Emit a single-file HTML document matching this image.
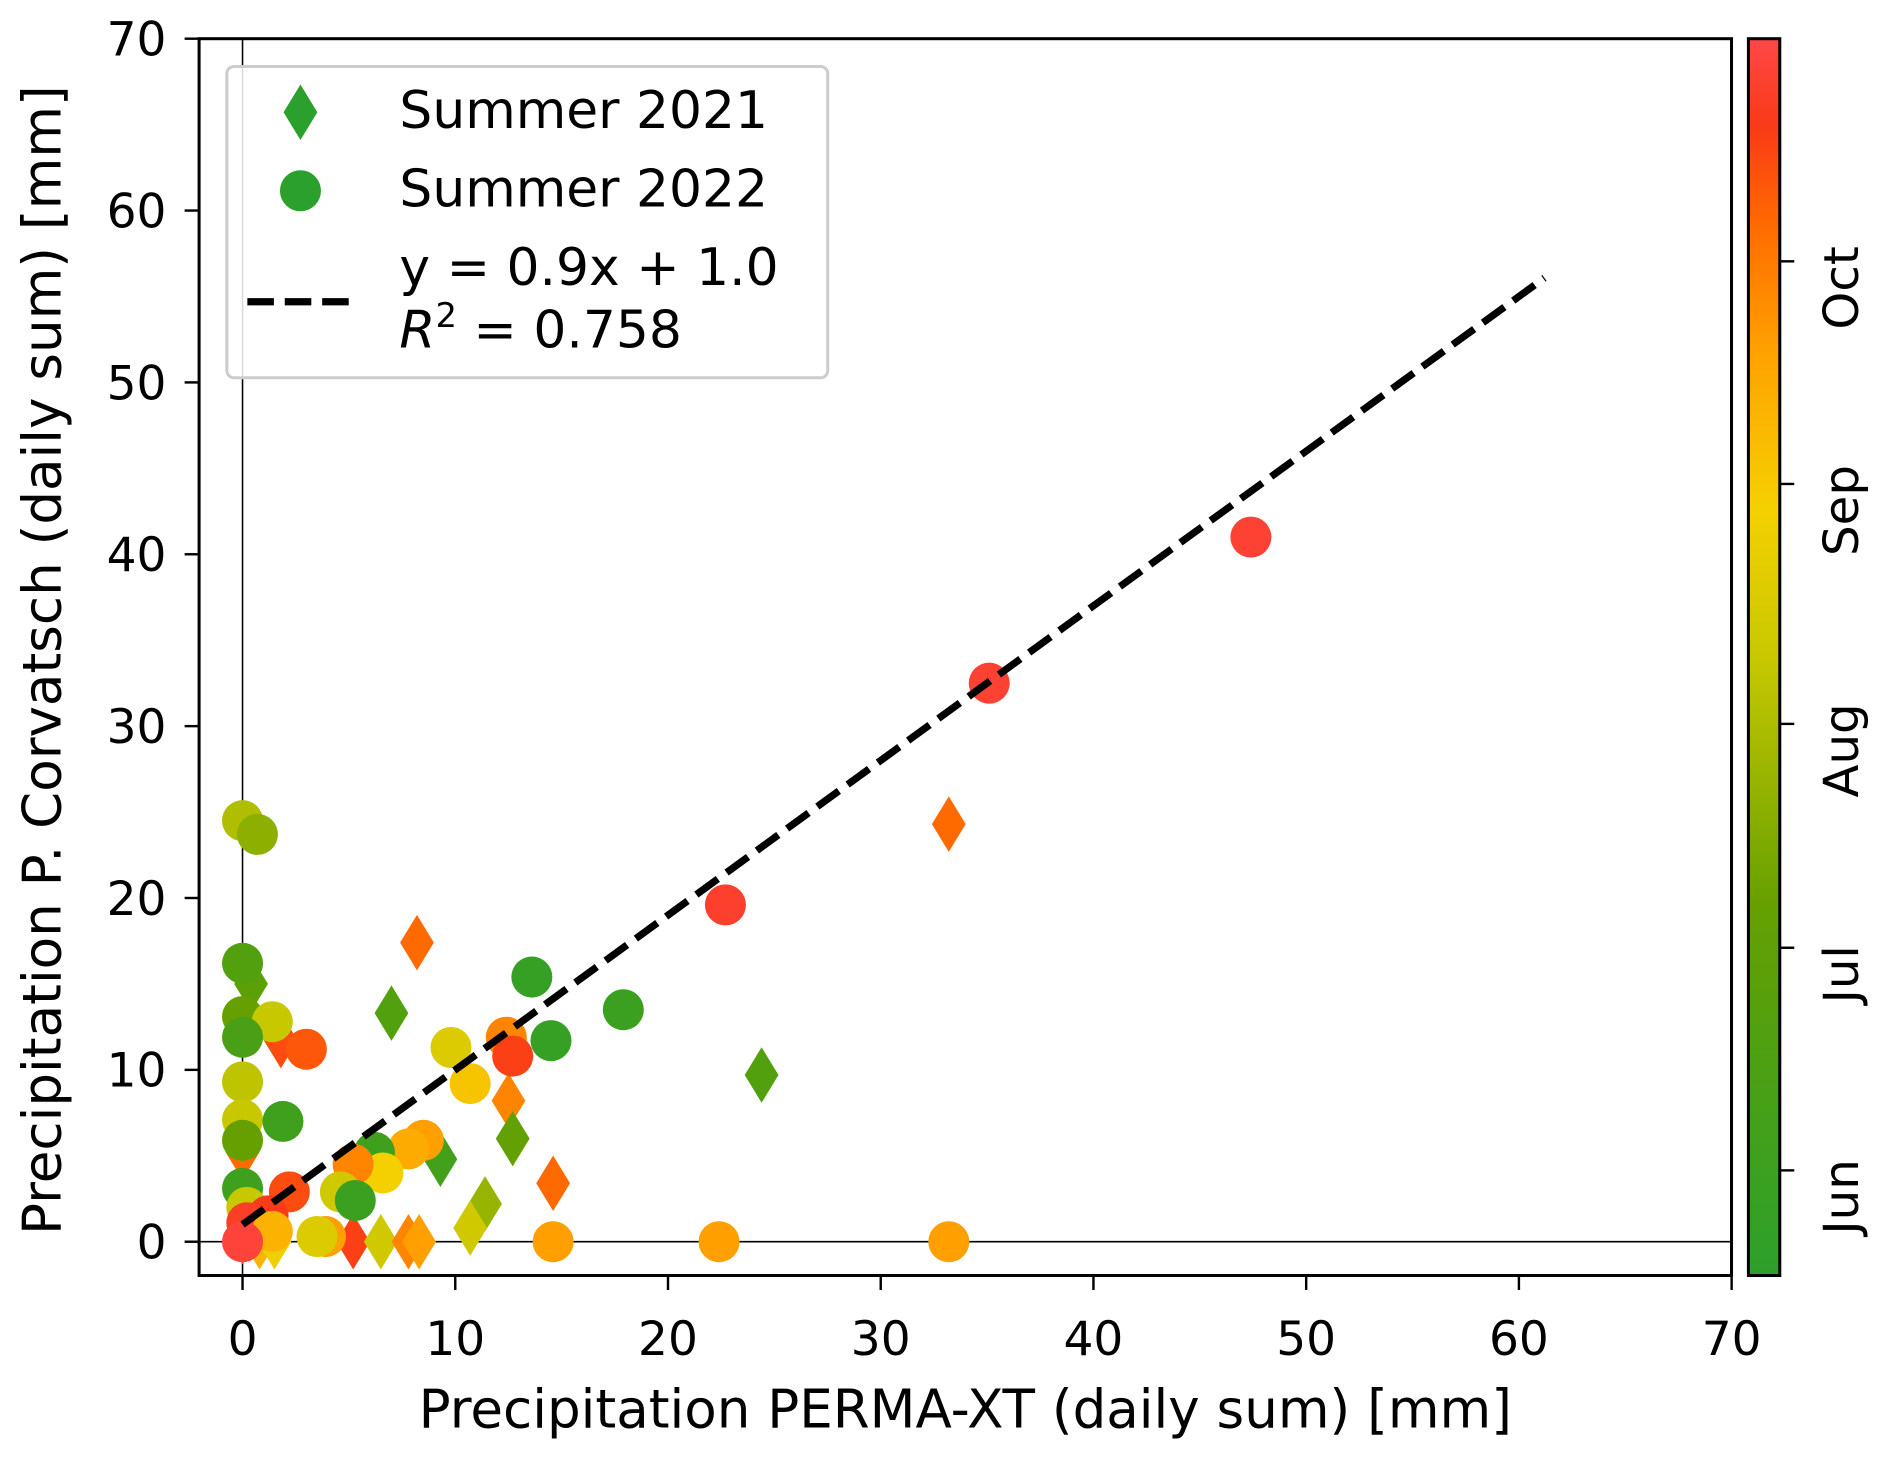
<!DOCTYPE html>
<html><head><meta charset="utf-8"><style>
html,body{margin:0;padding:0;background:#fff}
svg{display:block;font-family:"DejaVu Sans","Liberation Sans",sans-serif}
</style></head><body>
<svg id="chart" width="1892" height="1459" viewBox="0 0 1568 1209" xmlns="http://www.w3.org/2000/svg">
<defs>
<linearGradient id="cmap" x1="0" y1="1" x2="0" y2="0">
<stop offset="0" stop-color="#2ca02c"/><stop offset="0.3" stop-color="#66a000"/>
<stop offset="0.5" stop-color="#c8c800"/><stop offset="0.62" stop-color="#f5d000"/>
<stop offset="0.75" stop-color="#ffa000"/><stop offset="0.85" stop-color="#ff6a00"/>
<stop offset="0.93" stop-color="#fa3a18"/><stop offset="1" stop-color="#ff4848"/>
</linearGradient>
<clipPath id="plotclip"><rect x="165" y="32" width="1270" height="1025"/></clipPath>
</defs>
<g id="plot" clip-path="url(#plotclip)"></g>
<g id="axes"></g>
</svg>
<script>
const xTicks=[0,10,20,30,40,50,60,70];
const yTicks=[0,10,20,30,40,50,60,70];
const cbLabels=["Jun","Jul","Aug","Sep","Oct"];
const cbTickPos=[0.085,0.265,0.446,0.64,0.82];
const s21x=[33.2,8.2,7.0,24.4,12.5,12.7,9.3,14.6,11.4,10.7,5.2,6.5,7.8,8.3,0.4,1.8,0,0,0.8,1.5];
const s21y=[24.3,17.4,13.3,9.7,8.2,6.0,4.8,3.4,2.2,0.8,0,0,0,0,15.0,11.7,5.2,0.3,0,0];
const s21c=[0.85,0.85,0.2,0.2,0.8,0.28,0.12,0.85,0.4,0.52,0.92,0.52,0.8,0.75,0.25,0.9,0.85,0.95,0.7,0.6];
const s22x=[47.4,35.1,22.7,13.6,17.9,14.5,12.4,12.7,9.8,10.7,0,0.7,0,0,1.4,3.0,0,0,0,1.9,0,8.5,7.8,6.2,6.6,5.2,4.6,5.3,2.2,0,0.2,1.2,0.2,3.9,3.5,14.6,22.4,33.2,1.4,0];
const s22y=[41.0,32.5,19.6,15.4,13.5,11.7,11.9,10.8,11.3,9.2,24.5,23.7,16.2,13.1,12.8,11.2,11.9,9.3,7.1,7.0,5.9,5.9,5.4,5.2,4.0,4.5,2.9,2.4,2.9,3.1,2.0,1.5,1.1,0.3,0.3,0,0,0,0.6,0];
const s22c=[0.97,0.97,0.96,0.05,0.08,0.05,0.8,0.92,0.55,0.65,0.45,0.38,0.2,0.3,0.5,0.88,0.15,0.48,0.5,0.1,0.3,0.75,0.72,0.1,0.62,0.8,0.52,0.08,0.9,0.1,0.5,0.93,0.95,0.75,0.55,0.75,0.75,0.75,0.7,0.98];
const fitSlope=0.9, fitIntercept=1.0, fitXmax=61.2;

const X=v=>201+v*17.63, Y=v=>1029-v*14.243;
const NS="http://www.w3.org/2000/svg";
const stops=[[0,[44,160,44]],[0.3,[102,160,0]],[0.5,[200,200,0]],[0.62,[245,208,0]],[0.75,[255,160,0]],[0.85,[255,106,0]],[0.93,[250,58,24]],[1,[255,72,72]]];
function cmap(t){for(let i=1;i<stops.length;i++){if(t<=stops[i][0]){const a=stops[i-1],b=stops[i],f=(t-a[0])/(b[0]-a[0]);return "rgb("+a[1].map((c,k)=>Math.round(c+(b[1][k]-c)*f)).join(",")+")";}}return "rgb(255,72,72)";}
function mk(tag,attrs,parent,txt){const e=document.createElementNS(NS,tag);for(const k in attrs)e.setAttribute(k,attrs[k]);if(txt!==undefined)e.textContent=txt;parent.appendChild(e);return e;}
const plot=document.getElementById('plot'), axes=document.getElementById('axes');
let e;
e=mk('line',{x1:201,y1:32,x2:201,y2:1057,stroke:'#000','stroke-width':1.3},plot);


e=mk('line',{x1:165,y1:1029,x2:1435,y2:1029,stroke:'#000','stroke-width':1.3},plot);


function diamond(cx,cy){return `M${cx},${cy-23} L${cx+14},${cy} L${cx},${cy+23} L${cx-14},${cy} Z`;}
s21x.forEach((v,i)=>{e=mk('path',{d:diamond(X(v),Y(s21y[i])),fill:cmap(s21c[i])},plot);

});
s22x.forEach((v,i)=>{e=mk('ellipse',{cx:X(v),cy:Y(s22y[i]),rx:17,ry:17,fill:cmap(s22c[i])},plot);

});
e=mk('line',{x1:X(0),y1:Y(fitIntercept),x2:X(fitXmax),y2:Y(fitSlope*fitXmax+fitIntercept),stroke:'#000','stroke-width':6,'stroke-dasharray':'22,9'},plot);


e=mk('rect',{x:165,y:32,width:1270,height:1025,fill:'none',stroke:'#000','stroke-width':2.5},axes);


xTicks.forEach(t=>{mk('line',{x1:X(t),y1:1057,x2:X(t),y2:1069,stroke:'#000','stroke-width':2},axes);
e=mk('text',{x:X(t),y:1123,'font-size':39,'text-anchor':'middle'},axes,t);

});
yTicks.forEach(t=>{mk('line',{x1:153,y1:Y(t),x2:165,y2:Y(t),stroke:'#000','stroke-width':2},axes);
e=mk('text',{x:138,y:Y(t)+14,'font-size':39,'text-anchor':'end'},axes,t);

});
e=mk('text',{x:800,y:1183,'font-size':44,'text-anchor':'middle'},axes,'Precipitation PERMA-XT (daily sum) [mm]');


e=mk('text',{x:0,y:0,'font-size':44,'text-anchor':'middle',transform:'translate(50,547) rotate(-90)'},axes,'Precipitation P. Corvatsch (daily sum) [mm]');


e=mk('rect',{x:1449,y:32,width:26,height:1025,fill:'url(#cmap)',stroke:'#000','stroke-width':2.5},axes);


cbLabels.forEach((l,i)=>{const y=1057-cbTickPos[i]*1025;
mk('line',{x1:1475,y1:y,x2:1487,y2:y,stroke:'#000','stroke-width':2},axes);
e=mk('text',{x:0,y:0,'font-size':40,'text-anchor':'middle',transform:`translate(1540,${y+22}) rotate(-90)`},axes,l);

});
</script>
<svg style="position:absolute;left:0;top:0" width="1892" height="1459" viewBox="0 0 1568 1209">
<rect x="188" y="55" width="498" height="258" rx="6" fill="#fff" fill-opacity="0.85" stroke="#ccc" stroke-width="2.5"/>
<path d="M249,70 L263,93 L249,116 L235,93 Z" fill="#2ca02c"/>
<circle cx="249" cy="158" r="17" fill="#2ca02c"/>
<line x1="205" y1="250" x2="295" y2="250" stroke="#000" stroke-width="6" stroke-dasharray="22,9"/>
<g font-family="DejaVu Sans, Liberation Sans, sans-serif" font-size="43">
<text x="331" y="106">Summer 2021</text>
<text x="331" y="171">Summer 2022</text>
<text x="331" y="236">y = 0.9x + 1.0</text>
<text x="331" y="288"><tspan font-style="italic">R</tspan><tspan font-size="28" dy="-17">2</tspan><tspan dy="17"> = 0.758</tspan></text>
</g>
</svg>
</body></html>
